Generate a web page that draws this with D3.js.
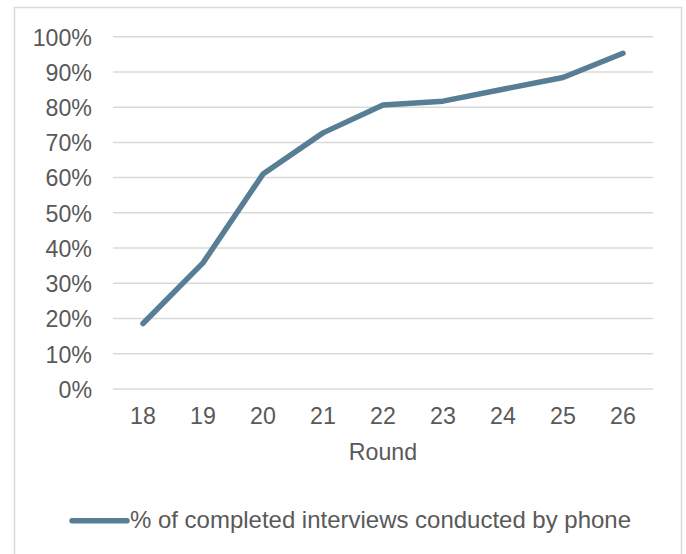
<!DOCTYPE html>
<html><head><meta charset="utf-8">
<script src="https://cdn.jsdelivr.net/npm/d3@7"></script>
<style>body{margin:0;background:#fff;} text{font-family:"Liberation Sans",Arial,sans-serif;fill:#595959;}</style>
</head><body>
<svg id="c" width="686" height="554"></svg>
<script>
const rounds = ["18","19","20","21","22","23","24","25","26"];
const phoneShare = [0.186, 0.358, 0.61, 0.727, 0.806, 0.817, 0.851, 0.884, 0.953];
const yTicks = [0,0.1,0.2,0.3,0.4,0.5,0.6,0.7,0.8,0.9,1.0];
const seriesName = "% of completed interviews conducted by phone";
const xTitle = "Round";

const svg = d3.select("#c");
svg.append("rect").attr("x",14.5).attr("y",7.5).attr("width",667).attr("height",560)
  .attr("fill","#fff").attr("stroke","#d9d9d9").attr("stroke-width",1.5);

const x = d3.scaleBand().domain(rounds).range([113,653]);
const y = d3.scaleLinear().domain([0,1]).range([389,36.7]);
const fs = 23.2;

const g = svg.append("g");
g.selectAll("line.grid").data(yTicks).join("line").attr("class","grid")
  .attr("x1",113).attr("x2",653).attr("y1",d=>y(d)).attr("y2",d=>y(d))
  .attr("stroke","#d9d9d9").attr("stroke-width",1.5);

const yAxis = d3.axisLeft(y).tickValues(yTicks).tickFormat(d3.format(".0%")).tickSize(0).tickPadding(0);
const ya = svg.append("g").attr("transform","translate(92,0)").call(yAxis);
ya.select(".domain").remove();
ya.selectAll("text").attr("font-size",fs).attr("fill","#595959").attr("dy","0.36em")
  .style("font-family","'Liberation Sans',Arial,sans-serif");

const xAxis = d3.axisBottom(x).tickSize(0).tickPadding(0);
const xa = svg.append("g").attr("transform","translate(0,408)").call(xAxis);
xa.select(".domain").remove();
xa.selectAll("text").attr("font-size",fs).attr("fill","#595959").attr("dy","0.71em")
  .style("font-family","'Liberation Sans',Arial,sans-serif");

svg.append("text").attr("x",383).attr("y",460).attr("text-anchor","middle")
  .attr("font-size",fs).text(xTitle);

const line = d3.line().x((d,i)=>x(rounds[i])+x.bandwidth()/2).y(d=>y(d));
svg.append("path").datum(phoneShare).attr("d",line).attr("fill","none")
  .attr("stroke","#587E95").attr("stroke-width",5.5).attr("stroke-linecap","round").attr("stroke-linejoin","round");

svg.append("line").attr("x1",72).attr("x2",127).attr("y1",520.7).attr("y2",520.7)
  .attr("stroke","#587E95").attr("stroke-width",5.5).attr("stroke-linecap","round");
svg.append("text").attr("x",130).attr("y",527.5).attr("font-size",fs)
  .attr("textLength",501).attr("lengthAdjust","spacingAndGlyphs").text(seriesName);
</script>
</body></html>
